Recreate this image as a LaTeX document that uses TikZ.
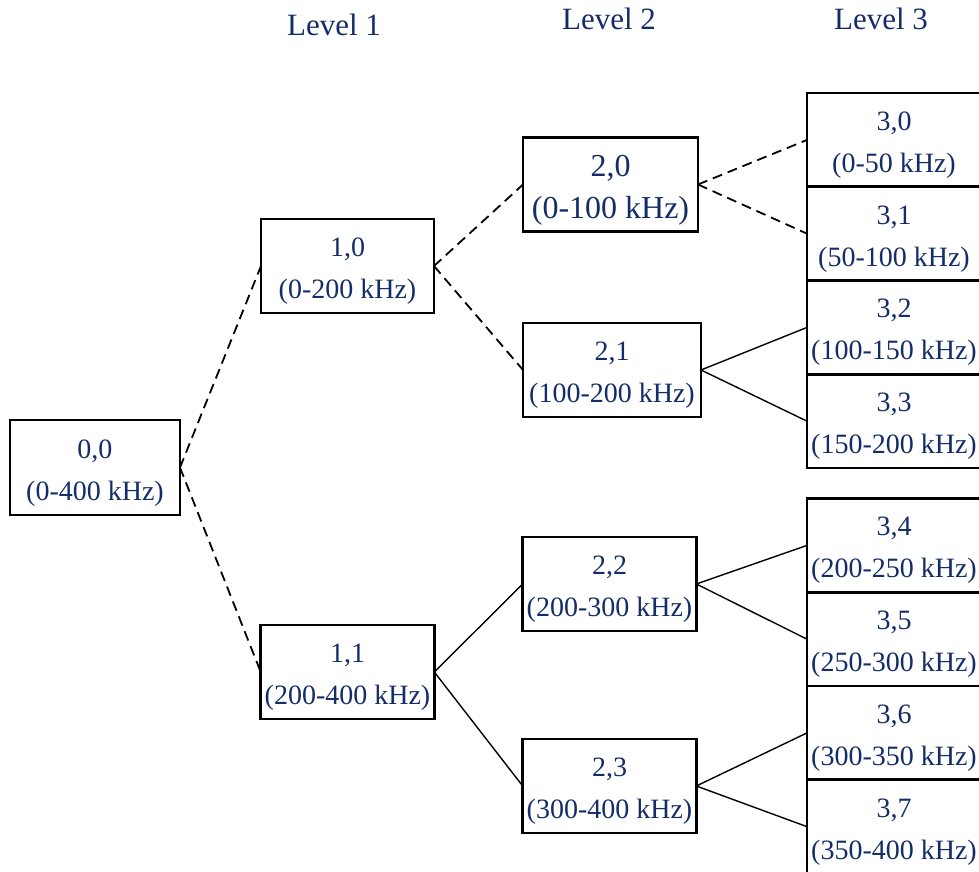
\documentclass[tikz,border=0pt]{standalone}
\usepackage{fontspec}
\setmainfont{Liberation Serif}
\usepackage{xcolor}
\usepackage{tikz}
\usetikzlibrary{positioning}
\definecolor{navy}{RGB}{20,45,105}
\newcommand{\hi}{\rule{0pt}{1.04em}}

\begin{document}
\begin{tikzpicture}[-,x=0.5pt,y=-0.5pt,node distance=0pt,semithick]
 				 \tikzstyle{band}=[draw, rectangle, line width=1.3pt, inner sep=2pt, outer sep=0pt, fill=white, minimum width=86.5pt, minimum height=47pt, align=center, text=navy, font=\fontsize{14}{21}\selectfont]
 				 \tikzstyle{leaf}=[band, minimum width=87pt, minimum height=46.875pt]
 				 \tikzstyle{lvl}=[anchor=base, text=navy, font=\fontsize{15.5}{18}\selectfont]
 				 \tikzstyle{split}=[line width=0.9pt, dash pattern=on 5pt off 3pt]
 				 \tikzstyle{link}=[line width=0.7pt]
 				 \useasboundingbox (0,0) rectangle (979,872);
 				 \clip (0,0) rectangle (979,872);
 					 \node[lvl]			(T1) at (334,36)		{Level 1};
 					 \node[lvl]			(T2) at (609,30)		{Level 2};
 					 \node[lvl]			(T3) at (881,30)		{Level 3};
 					 \node[band, minimum width=85pt, minimum height=47.5pt] (n00) at (95,467.5) {\hi 0,0\\(0-400 kHz)};
  					 \node[band]         (n10) at (347.5,266) 	{\hi 1,0\\(0-200 kHz)};
  					 \node[band]         (n11) at (347.5,672) 	{\hi 1,1\\(200-400 kHz)};
  					 \node[band, minimum width=87.5pt, font=\fontsize{16}{21}\selectfont] (n20) at (610.5,184.5) {\hi 2,0\\(0-100 kHz)};
  					 \node[band, minimum width=89pt] (n21) at (612,370) {\hi 2,1\\(100-200 kHz)};
  					 \node[band]         (n22) at (609.5,584) 	{\hi 2,2\\(200-300 kHz)};
  					 \node[band]         (n23) at (609.5,786) 	{\hi 2,3\\(300-400 kHz)};
					\node[leaf]		  (n30) at (894,139.9) 	{\hi 3,0\\(0-50 kHz)};
					\node[leaf]		  (n31) [below=of n30] {\hi 3,1\\(50-100 kHz)};
					\node[leaf]		  (n32) [below=of n31] {\hi 3,2\\(100-150 kHz)};
					\node[leaf]		  (n33) [below=of n32] {\hi 3,3\\(150-200 kHz)};
					\node[leaf]		  (n34) at (894,545.4) 	{\hi 3,4\\(200-250 kHz)};
					\node[leaf]		  (n35) [below=of n34] {\hi 3,5\\(250-300 kHz)};
					\node[leaf]		  (n36) [below=of n35] {\hi 3,6\\(300-350 kHz)};
					\node[leaf]		  (n37) [below=of n36] {\hi 3,7\\(350-400 kHz)};
 					  \path[split]
 					 			(n00.east) edge (n10.west)
 					 			(n00.east) edge (n11.west)
 					 			(n10.east) edge (n20.west)
 					 			(n10.east) edge (n21.west)
 					 			(n20.east) edge (n30.west)
 					 			(n20.east) edge (n31.west);
 					  \path[link]
 					 			(n11.east) edge (n22.west)
 					 			(n11.east) edge (n23.west)
 					 			(n21.east) edge (n32.west)
 					 			(n21.east) edge (n33.west)
 					 			(n22.east) edge (n34.west)
 					 			(n22.east) edge (n35.west)
 					 			(n23.east) edge (n36.west)
 					 			(n23.east) edge (n37.west);
				\end{tikzpicture}
\end{document}
